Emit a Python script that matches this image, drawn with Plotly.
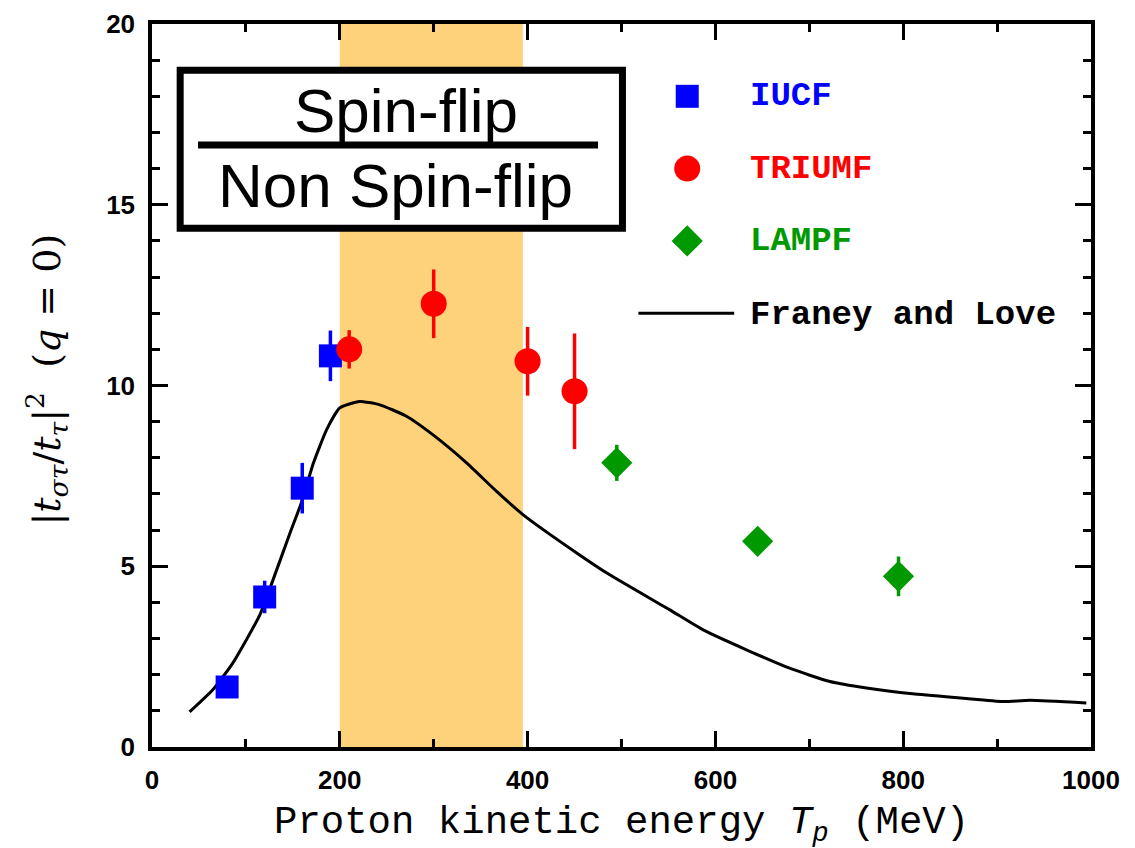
import plotly.graph_objects as go

# Measured spin-flip / non-spin-flip ratios |t_στ/t_τ|^2 at q = 0
iucf_energy = [80, 120, 160, 190]
iucf_ratio = [1.66, 4.15, 7.16, 10.82]
iucf_err = [0.25, 0.45, 0.70, 0.70]

triumf_energy = [210, 300, 400, 450]
triumf_ratio = [11.00, 12.26, 10.67, 9.84]
triumf_err = [0.53, 0.95, 0.95, 1.60]

lampf_energy = [495, 645, 795]
lampf_ratio = [7.86, 5.69, 4.72]
lampf_err = [0.50, 0.30, 0.55]

# Franey and Love effective interaction prediction
fl_energy = [40, 65, 86, 115, 129, 147, 159, 172, 186, 200, 221, 242, 271, 299,
             335, 367, 395, 455, 487, 551, 587, 633, 679, 722, 761, 810, 864,
             906, 935, 995]
fl_ratio = [0.97, 1.59, 2.32, 3.66, 4.63, 5.92, 6.75, 7.86, 8.78, 9.38, 9.56,
            9.47, 9.15, 8.64, 7.86, 7.07, 6.43, 5.32, 4.77, 3.80, 3.24, 2.69,
            2.18, 1.81, 1.63, 1.47, 1.35, 1.26, 1.29, 1.22]

# Highlighted energy window (MeV)
band_range = [200, 395]

x_ticks = [0, 200, 400, 600, 800, 1000]
y_ticks = [0, 5, 10, 15, 20]

BLUE = "#0000FF"
RED = "#FF0000"
GREEN = "#009900"
BAND = "#FDD27B"
MONO = "Courier New, Liberation Mono, monospace"
SANS = "Liberation Sans, Arial, sans-serif"

fig = go.Figure()

fig.add_trace(go.Scatter(
    x=fl_energy, y=fl_ratio, mode="lines",
    line=dict(color="black", width=3, shape="spline", smoothing=0.5),
    hoverinfo="skip"))

fig.add_trace(go.Scatter(
    x=iucf_energy, y=iucf_ratio, mode="markers",
    marker=dict(symbol="square", size=23, color=BLUE),
    error_y=dict(type="data", array=iucf_err, color=BLUE, thickness=3.5, width=0)))

fig.add_trace(go.Scatter(
    x=triumf_energy, y=triumf_ratio, mode="markers",
    marker=dict(symbol="circle", size=26, color=RED),
    error_y=dict(type="data", array=triumf_err, color=RED, thickness=3.5, width=0)))

fig.add_trace(go.Scatter(
    x=lampf_energy, y=lampf_ratio, mode="markers",
    marker=dict(symbol="diamond", size=24, color=GREEN),
    error_y=dict(type="data", array=lampf_err, color=GREEN, thickness=3.5, width=0)))

# Key: symbols, line sample and coloured labels
key_names = ["IUCF", "TRIUMF", "LAMPF"]
key_symbols = ["square", "circle", "diamond"]
key_sizes = [23, 26, 24]
key_colors = [BLUE, RED, GREEN]
key_y = [18, 16, 14]
for name, sym, sz, col, ky in zip(key_names, key_symbols, key_sizes, key_colors, key_y):
    fig.add_trace(go.Scatter(x=[570], y=[ky], mode="markers",
                             marker=dict(symbol=sym, size=sz, color=col),
                             hoverinfo="skip"))
    fig.add_annotation(x=635, y=ky, text=f"<b>{name}</b>", showarrow=False,
                       xanchor="left", yanchor="middle",
                       font=dict(family=MONO, size=34, color=col))
fig.add_trace(go.Scatter(x=[518, 620], y=[12, 12], mode="lines",
                         line=dict(color="black", width=3), hoverinfo="skip"))
fig.add_annotation(x=635, y=11.95, text="<b>Franey and Love</b>", showarrow=False,
                   xanchor="left", yanchor="middle",
                   font=dict(family=MONO, size=34, color="black"))

# Shaded energy window
fig.add_shape(type="rect", xref="x", yref="y", x0=band_range[0], x1=band_range[1],
              y0=0, y1=20, fillcolor=BAND, line=dict(width=0), layer="below")

# Framed fraction label
fig.add_shape(type="rect", xref="x", yref="y", x0=30, x1=501, y0=14.35, y1=18.72,
              line=dict(color="black", width=7), fillcolor="white", layer="above")
fig.add_shape(type="line", xref="x", yref="y", x0=49, x1=475, y0=16.65, y1=16.65,
              line=dict(color="black", width=7))
fig.add_annotation(x=270, y=17.6, text="Spin-flip", showarrow=False,
                   xanchor="center", yanchor="middle",
                   font=dict(family=SANS, size=62, color="black"))
fig.add_annotation(x=259, y=15.52, text="Non Spin-flip", showarrow=False,
                   xanchor="center", yanchor="middle",
                   font=dict(family=SANS, size=62, color="black"))

# Axis titles
fig.add_annotation(xref="paper", yref="paper", x=0.5, y=-0.108,
                   text="Proton kinetic energy <i>T</i><sub><i>p</i></sub> (MeV)",
                   showarrow=False, xanchor="center", yanchor="middle",
                   font=dict(family=MONO, size=39, color="black"))
fig.add_annotation(xref="paper", yref="paper", x=-0.112, y=0.508,
                   text="|<i>t</i><sub><i>στ</i></sub>/<i>t</i><sub><i>τ</i></sub>|<sup>2</sup>  (<i>q</i> = 0)",
                   showarrow=False, textangle=-90, xanchor="center", yanchor="middle",
                   font=dict(family="DejaVu Serif, serif", size=38, color="black"))

axis_common = dict(
    ticks="inside", ticklen=16, tickwidth=3, tickcolor="black",
    showline=True, linewidth=3.5, linecolor="black", mirror="ticks",
    showgrid=False, zeroline=False,
    tickfont=dict(family=SANS, size=26, color="black", weight="bold"),
)

fig.update_xaxes(range=[0, 1000], tickvals=x_ticks, ticklabelstandoff=7,
                 minor=dict(ticks="inside", ticklen=8, tickwidth=3,
                            tickcolor="black", dtick=100, tick0=0, showgrid=False),
                 **axis_common)
fig.update_yaxes(range=[0, 20], tickvals=y_ticks, ticklabelstandoff=8,
                 minor=dict(ticks="inside", ticklen=8, tickwidth=3,
                            tickcolor="black", dtick=1, tick0=0, showgrid=False),
                 **axis_common)

fig.update_layout(
    width=1135, height=848,
    margin=dict(l=152, r=44, t=24, b=101, autoexpand=False),
    plot_bgcolor="white", paper_bgcolor="white",
    showlegend=False,
)

fig.write_html("out.html")
